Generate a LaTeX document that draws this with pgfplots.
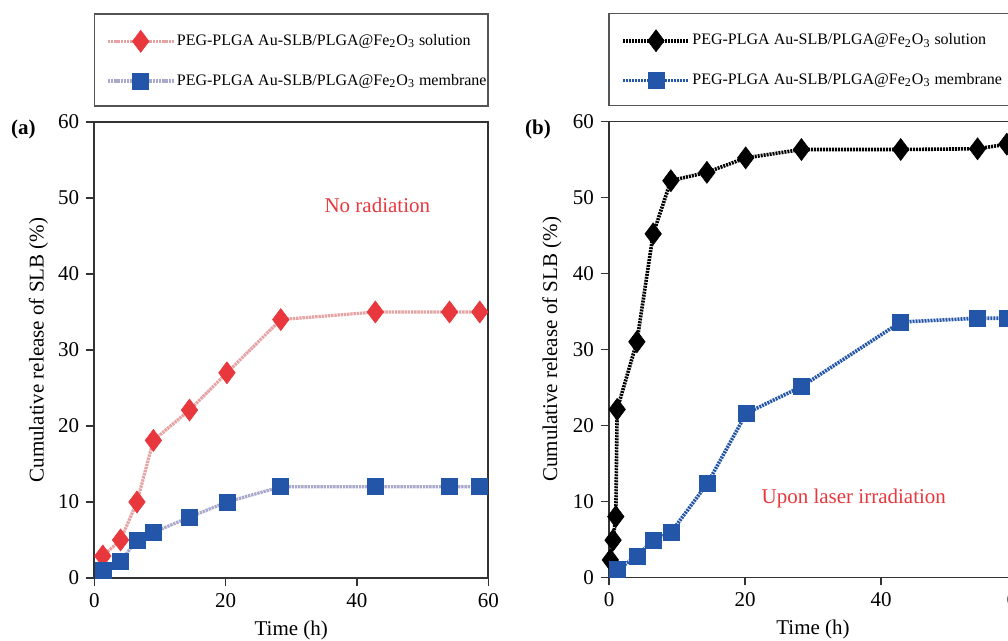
\documentclass[border=0pt]{standalone}
\usepackage{fontspec}
\setmainfont{Liberation Serif}
\usepackage{pgfplots}
\pgfplotsset{compat=1.18}
\usetikzlibrary{calc}
\definecolor{mred}{HTML}{E8383D}
\definecolor{lred}{HTML}{E6A3A3}
\definecolor{mblue}{HTML}{2356A8}
\definecolor{lblue}{HTML}{A9AACB}
\definecolor{framegray}{HTML}{555555}

\pgfplotsset{
  panel/.style={
    scale only axis, height=228pt,
    xmin=0, xmax=60, ymin=0, ymax=60,
    xtick={0,20,40,60}, ytick={0,10,...,60},
    tick pos=left, tick align=outside,
    major tick length=4pt,
    axis line style={black!80, line width=0.8pt},
    every tick/.style={black!80, line width=0.6pt},
    /pgf/number format/assume math mode=true,
    ticklabel style={font=\fontsize{10.5}{12}\selectfont},
    label style={font=\fontsize{10.5}{12}\selectfont},
    xlabel={Time (h)},
    ylabel={Cumulative release of SLB (\%)},
    xlabel style={at={(axis description cs:0.5,-0.114)}, anchor=center},
    clip=false,
    legend style={at={(rel axis cs:0.029,1)}, anchor=west, yshift=31pt,
      draw=none, fill=none, inner sep=0pt,
      font=\fontsize{8}{9.6}\selectfont, row sep=10pt,
      nodes={inner sep=0.8pt}, cells={anchor=west}},
    legend image code/.code={\draw[mark repeat=2, mark phase=2, #1]
      plot coordinates {(0pt,0pt) (16.5pt,0pt) (33pt,0pt)};},
  },
  redline/.style={lred, line width=1.6pt, dash pattern=on 1.2pt off 0.4pt,
    mark=diamond*, mark size=5.5pt, mark options={solid, fill=mred, draw=mred, line width=0.3pt}},
  paleblue/.style={lblue, line width=1.6pt, dash pattern=on 1.2pt off 0.4pt,
    mark=square*, mark size=4pt, mark options={solid, fill=mblue, draw=mblue, line width=0.3pt, rounded corners=1pt}},
  blackline/.style={black, line width=1.8pt, dash pattern=on 1pt off 0.5pt,
    mark=diamond*, mark size=5.5pt, mark options={solid, fill=black, draw=black, line width=0.3pt}},
  blueline/.style={mblue, line width=1.8pt, dash pattern=on 1pt off 0.5pt,
    mark=square*, mark size=4pt, mark options={solid, fill=mblue, draw=mblue, line width=0.3pt, rounded corners=1pt}},
}

\begin{document}
\begin{tikzpicture}
% panel (a)
\begin{axis}[panel, name=L, width=197pt,
  at={(47.15pt,31.5pt)}, anchor=south west,
  ylabel style={at={(axis description cs:-0.142,0.5)}, anchor=center}]
\addplot[redline] coordinates {
  (1.3,2.9) (4,5) (6.5,10) (9,18.1) (14.5,22.1) (20.2,27)
  (28.4,34) (42.8,35) (54.1,35) (58.7,35)};
\addlegendentry{PEG-PLGA Au-SLB/PLGA@Fe\textsubscript{2}O\textsubscript{3} solution}
\addplot[paleblue] coordinates {
  (1.3,1.0) (4,2.2) (6.5,5) (9,6) (14.5,8) (20.2,10)
  (28.4,12) (42.8,12) (54.1,12) (58.7,12)};
\addlegendentry{PEG-PLGA Au-SLB/PLGA@Fe\textsubscript{2}O\textsubscript{3} membrane}
\node[text=mred, font=\fontsize{10.5}{12}\selectfont] at (axis cs:43.1,49) {No radiation};
\end{axis}
\draw[framegray, line width=0.8pt] ($(L.north west)+(0,8pt)$) rectangle ($(L.north east)+(0,54pt)$);

% panel (b)
\begin{axis}[panel, name=R, width=204pt,
  at={(304.5pt,31.8pt)}, anchor=south west,
  ylabel style={at={(axis description cs:-0.14,0.5)}, anchor=center}]
\addplot[blackline] coordinates {
  (0.2,2.3) (0.6,4.9) (1.0,8.0) (1.2,22.1) (4.1,31) (6.5,45.2)
  (9.1,52.2) (14.4,53.3) (20.1,55.2) (28.3,56.3) (42.9,56.3)
  (54.2,56.4) (58.5,57)};
\addlegendentry{PEG-PLGA Au-SLB/PLGA@Fe\textsubscript{2}O\textsubscript{3} solution}
\addplot[blueline] coordinates {
  (1.2,1.0) (4.1,2.8) (6.5,4.9) (9.1,5.9) (14.5,12.4) (20.2,21.6)
  (28.3,25.1) (42.9,33.6) (54.2,34.1) (58.5,34.1)};
\addlegendentry{PEG-PLGA Au-SLB/PLGA@Fe\textsubscript{2}O\textsubscript{3} membrane}
\node[text=mred, font=\fontsize{10.5}{12}\selectfont] at (axis cs:36,10.4) {Upon laser irradiation};
\end{axis}
\draw[framegray, line width=0.8pt] ($(R.north west)+(0,8pt)$) rectangle ($(R.north east)+(0,54pt)$);

\node[font=\bfseries\fontsize{10.5}{12}\selectfont] at (11.7pt,256pt) {(a)};
\node[font=\bfseries\fontsize{10.5}{12}\selectfont] at (269pt,256pt) {(b)};

\pgfresetboundingbox
\path[use as bounding box] (0,0) rectangle (504pt,320.5pt);
\end{tikzpicture}
\end{document}
